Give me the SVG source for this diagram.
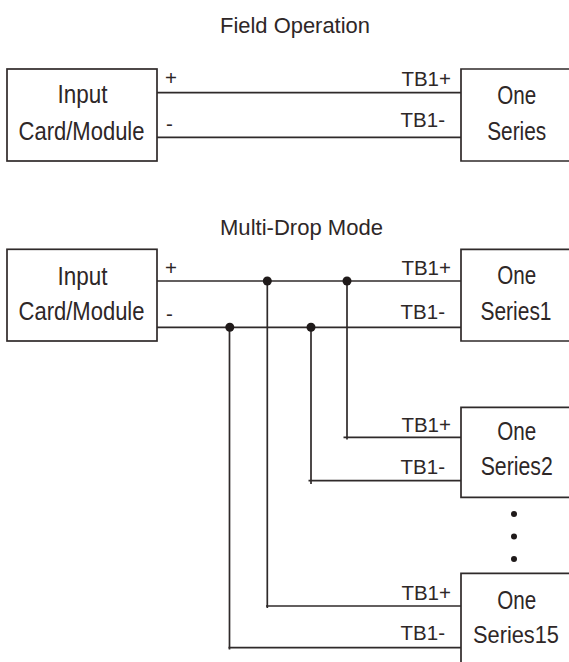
<svg xmlns="http://www.w3.org/2000/svg" width="569" height="662" viewBox="0 0 569 662">
<style>
.bg{fill:#ffffff}
.box{fill:#ffffff;stroke:#2f2a2a;stroke-width:1.7}
.w{fill:none;stroke:#2f2a2a;stroke-width:1.7}
.j{fill:#1f1a1a}
.t{font-family:'Liberation Sans Narrow','Liberation Sans',Arial,sans-serif;fill:#2e2727}
.title{font-size:21.5px}
.body{font-size:26px;text-anchor:middle}
.tb{font-size:20.5px;text-anchor:end}
.pm{font-size:20.5px}
</style>
<rect class="bg" x="0" y="0" width="569" height="662"/>

<g id="titles">
<text class="t title" x="220" y="33" textLength="150" lengthAdjust="spacingAndGlyphs">Field Operation</text>
<text class="t title" x="220" y="235" textLength="163" lengthAdjust="spacingAndGlyphs">Multi-Drop Mode</text>
</g>

<g id="connectors">
<line class="w" x1="157" y1="92.7" x2="461" y2="92.7"/>
<line class="w" x1="157" y1="137.3" x2="461" y2="137.3"/>
<line class="w" x1="157" y1="281" x2="461" y2="281"/>
<line class="w" x1="157" y1="327.3" x2="461" y2="327.3"/>
<polyline class="w" points="347,281 347,439.5"/>
<line class="w" x1="343.5" y1="437.3" x2="461" y2="437.3"/>
<polyline class="w" points="311,327.3 311,484"/>
<line class="w" x1="308.5" y1="480.7" x2="461" y2="480.7"/>
<polyline class="w" points="267.3,281 267.3,608"/>
<line class="w" x1="266" y1="606" x2="461" y2="606"/>
<polyline class="w" points="229.5,327.3 229.5,649.5"/>
<line class="w" x1="228.5" y1="647.7" x2="461" y2="647.7"/>
<circle class="j" cx="267.3" cy="281" r="4.5"/>
<circle class="j" cx="347" cy="281" r="4.5"/>
<circle class="j" cx="229.8" cy="327.3" r="4.5"/>
<circle class="j" cx="311" cy="327.3" r="4.5"/>
</g>

<g id="labels">
<text class="t pm" x="165" y="85">+</text>
<text class="t pm" x="166" y="131">-</text>
<text class="t tb" x="451" y="86">TB1+</text>
<text class="t tb" x="445" y="127">TB1-</text>
<text class="t pm" x="165" y="275">+</text>
<text class="t pm" x="166" y="321">-</text>
<text class="t tb" x="451" y="275">TB1+</text>
<text class="t tb" x="445" y="318.5">TB1-</text>
<text class="t tb" x="451" y="431.7">TB1+</text>
<text class="t tb" x="445" y="473.5">TB1-</text>
<text class="t tb" x="451" y="600">TB1+</text>
<text class="t tb" x="445" y="640">TB1-</text>
</g>

<g id="input1">
<rect class="box" x="7" y="69" width="150" height="92"/>
<text class="t body" x="82.5" y="103" textLength="50" lengthAdjust="spacingAndGlyphs">Input</text>
<text class="t body" x="81.5" y="139.5" textLength="126" lengthAdjust="spacingAndGlyphs">Card/Module</text>
</g>

<g id="oneSeries">
<path class="box" d="M569,69 H461 V161 H569"/>
<text class="t body" x="516.7" y="104" textLength="39" lengthAdjust="spacingAndGlyphs">One</text>
<text class="t body" x="516.7" y="140" textLength="59" lengthAdjust="spacingAndGlyphs">Series</text>
</g>

<g id="input2">
<rect class="box" x="7" y="249.3" width="150" height="91.7"/>
<text class="t body" x="82.5" y="285" textLength="50" lengthAdjust="spacingAndGlyphs">Input</text>
<text class="t body" x="81.5" y="320" textLength="126" lengthAdjust="spacingAndGlyphs">Card/Module</text>
</g>

<g id="series1">
<path class="box" d="M569,249.3 H461 V341 H569"/>
<text class="t body" x="516.7" y="283.5" textLength="39" lengthAdjust="spacingAndGlyphs">One</text>
<text class="t body" x="516" y="320" textLength="71" lengthAdjust="spacingAndGlyphs">Series1</text>
</g>

<g id="series2">
<path class="box" d="M569,407.3 H461 V497.3 H569"/>
<text class="t body" x="516.7" y="440" textLength="39" lengthAdjust="spacingAndGlyphs">One</text>
<text class="t body" x="516.7" y="475" textLength="72" lengthAdjust="spacingAndGlyphs">Series2</text>
</g>

<g id="ellipsis">
<circle class="j" cx="514" cy="514" r="3"/>
<circle class="j" cx="514" cy="536.5" r="3"/>
<circle class="j" cx="514" cy="559" r="3"/>
</g>

<g id="series15">
<path class="box" d="M569,573.3 H461 V662"/>
<text class="t body" x="516.7" y="609.3" textLength="39" lengthAdjust="spacingAndGlyphs">One</text>
<text class="t body" x="516" y="642.7" style="font-size:24px" textLength="86" lengthAdjust="spacingAndGlyphs">Series15</text>
</g>
</svg>
